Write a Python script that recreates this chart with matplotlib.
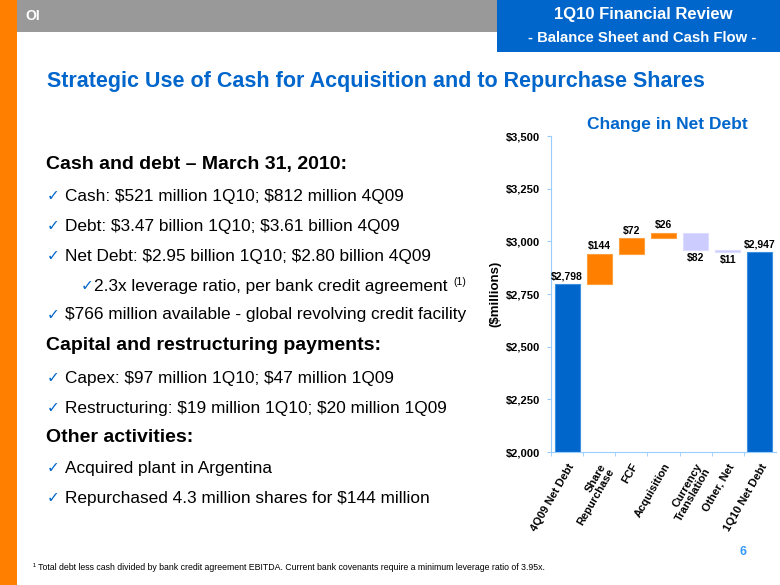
import matplotlib
matplotlib.use("Agg")
import matplotlib.pyplot as plt
import numpy as np
from matplotlib.patches import Rectangle

plt.rcParams['font.family'] = ['Liberation Sans', 'DejaVu Sans']

# data
categories = ["4Q09 Net Debt", "Share\nRepurchase", "FCF", "Acquisition",
              "Currency\nTranslation", "Other, Net", "1Q10 Net Debt"]
start_debt = 2798
changes = [144, 72, 26, -82, -11]
end_debt = 2947
yticks = [2000, 2250, 2500, 2750, 3000, 3250, 3500]

blue = "#0066CC"
orange = "#FF7F00"
lavender = "#CCCCFF"

fig = plt.figure(figsize=(7.8, 5.85), dpi=100)

# page decorations in pixel coords
bg = fig.add_axes([0, 0, 1, 1])
bg.set_xlim(0, 780)
bg.set_ylim(585, 0)
bg.axis("off")
bg.add_patch(Rectangle((0, 0), 17, 585, color=orange, lw=0))
bg.add_patch(Rectangle((17, 0), 763, 32, color="#999999", lw=0))
bg.add_patch(Rectangle((497, 0), 283, 52, color=blue, lw=0))
bg.text(25, 16, "OI", color="white", fontsize=10, fontweight="bold", va="center")
bg.text(643, 15, "1Q10 Financial Review", color="white", fontsize=12, fontweight="bold",
        ha="center", va="center")
bg.text(642, 38, "- Balance Sheet and Cash Flow -", color="white", fontsize=10.7,
        fontweight="bold", ha="center", va="center")
bg.text(47, 82, "Strategic Use of Cash for Acquisition and to Repurchase Shares",
        color=blue, fontsize=15.5, fontweight="bold", va="center")

# left text block
lines = [
    ("h", 0, "Cash and debt \u2013 March 31, 2010:", 165),
    ("b", 0, "Cash: $521 million 1Q10; $812 million 4Q09", 196),
    ("b", 0, "Debt: $3.47 billion 1Q10; $3.61 billion 4Q09", 226),
    ("b", 0, "Net Debt: $2.95 billion 1Q10; $2.80 billion 4Q09", 256),
    ("b", 1, "2.3x leverage ratio, per bank credit agreement", 286),
    ("b", 0, "$766 million available - global revolving credit facility", 315),
    ("h", 0, "Capital and restructuring payments:", 346),
    ("b", 0, "Capex: $97 million 1Q10; $47 million 1Q09", 378),
    ("b", 0, "Restructuring: $19 million 1Q10; $20 million 1Q09", 408),
    ("h", 0, "Other activities:", 437),
    ("b", 0, "Acquired plant in Argentina", 468),
    ("b", 0, "Repurchased 4.3 million shares for $144 million", 498),
]
for kind, indent, txt, y in lines:
    if kind == "h":
        bg.text(46, y, txt, fontsize=14, fontweight="bold", va="center", color="black",
                parse_math=False)
    else:
        cx = 47 if indent == 0 else 81
        tx = 65 if indent == 0 else 94
        bg.text(cx, y, "\u2713", fontsize=11, color=blue, va="center",
                family="DejaVu Sans")
        bg.text(tx, y, txt, fontsize=12.4, va="center", color="black", parse_math=False)
bg.text(453, 282, "(1)", fontsize=7.5, va="center")
bg.text(33, 568, "\u00b9 Total debt less cash divided by bank credit agreement EBITDA. "
        "Current bank covenants require a minimum leverage ratio of 3.95x.",
        fontsize=6.3, va="center")
bg.text(743, 552, "6", color="#3399FF", fontsize=9, fontweight="bold", ha="center", va="center")
bg.text(667, 124, "Change in Net Debt", color=blue, fontsize=12.5, fontweight="bold",
        ha="center", va="center")

# waterfall chart
ax = fig.add_axes([551 / 780, 1 - 452 / 585, 225 / 780, 316 / 585])
x = np.arange(len(categories))
levels = start_debt + np.cumsum(changes)
prev = np.concatenate([[start_debt], levels[:-1]])
bottoms = [0] + list(np.minimum(prev, levels)) + [0]
heights = [start_debt] + list(np.abs(changes)) + [end_debt]
colors = [blue] + [orange if c > 0 else lavender for c in changes] + [blue]
ax.bar(x, heights, bottom=bottoms, width=0.78, color=colors,
       edgecolor=["#3D8FE0"] + ["#FFA040" if c > 0 else "#DDDDFF" for c in changes] + ["#3D8FE0"],
       linewidth=0.8)

labels = ["$" + format(start_debt, ",")] + ["$" + str(abs(c)) for c in changes] + \
         ["$" + format(end_debt, ",")]
for i in range(len(categories)):
    if i in (0, len(categories) - 1) or changes[i - 1] > 0:
        ax.text(x[i], bottoms[i] + heights[i] + 12, labels[i], ha="center", va="bottom",
                fontsize=7.5, fontweight="bold")
    else:
        ax.text(x[i], bottoms[i] - 12, labels[i], ha="center", va="top",
                fontsize=7.5, fontweight="bold")

ax.set_xlim(-0.5, 6.5)
ax.set_ylim(2000, 3500)
ax.set_yticks(yticks)
ax.set_yticklabels(["$" + format(v, ",") for v in yticks], fontsize=8, fontweight="bold")
ax.set_xticks(x - 0.5, minor=True)
ax.set_xticks(x)
ax.set_xticklabels(categories, rotation=60, ha="right", rotation_mode="anchor",
                   fontsize=8, fontweight="bold", linespacing=1.0)
ax.tick_params(axis="x", which="major", length=0, pad=7)
ax.tick_params(axis="x", which="minor", length=3, color="#99CCFF", direction="out")
ax.tick_params(axis="y", length=3, color="#99CCFF", pad=5)
ax.set_ylabel("($millions)", fontsize=9.5, fontweight="bold")
ax.yaxis.set_label_coords(-0.22, 0.5)
for s in ["top", "right"]:
    ax.spines[s].set_visible(False)
for s in ["left", "bottom"]:
    ax.spines[s].set_color("#99CCFF")
ax.patch.set_alpha(0)

fig.savefig("out.png", dpi=100)
